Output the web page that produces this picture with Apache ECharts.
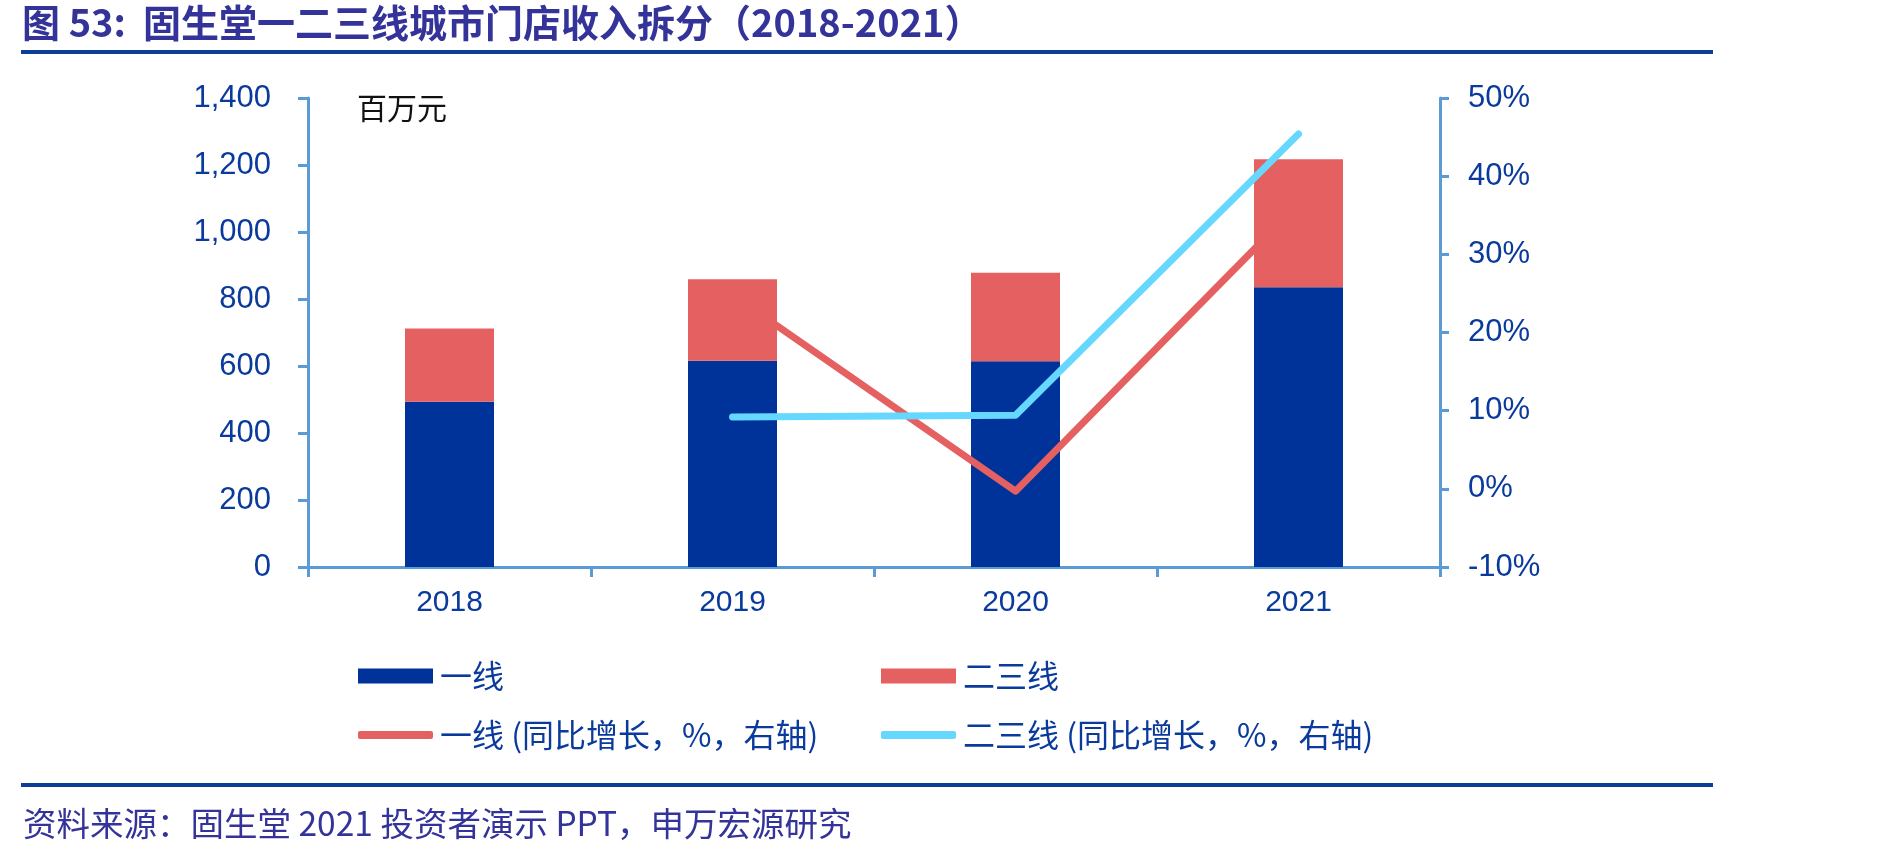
<!DOCTYPE html>
<html>
<head>
<meta charset="utf-8">
<title>固生堂一二三线城市门店收入拆分</title>
<script src="https://cdn.jsdelivr.net/npm/echarts@6/dist/echarts.min.js"></script>
<style>
  html, body { margin: 0; padding: 0; background: #fff; }
  #chart { width: 1884px; height: 860px; }
</style>
</head>
<body>
<div id="chart"></div>
<script>
// data
var years = ['2018', '2019', '2020', '2021'];
var tier1 = [493, 616, 614, 835];          // 一线, 百万元
var tier23 = [219, 243, 264, 382];         // 二三线, 百万元
var tier1Growth = [null, 24.8, -0.3, 36.4];   // %, right axis
var tier23Growth = [null, 9.2, 9.4, 45.4];    // %, right axis

var names = ['一线', '二三线', '一线 (同比增长，%，右轴)', '二三线 (同比增长，%，右轴)'];

var darkBlue = '#003399';
var red = '#E56060';
var lightBlue = '#66D7FF';
var axisColor = '#5B9BD5';
var labelColor = '#0A3A9C';
var cjk = '"Noto Sans CJK SC", "Liberation Sans", sans-serif';
var latin = '"Liberation Sans", Arial, sans-serif';

var chart = echarts.init(document.getElementById('chart'));

function oneLegend(name, left, top, h, icon) {
    return {
        data: [{ name: name, icon: icon }],
        left: left, top: top, padding: 0,
        itemWidth: 75, itemHeight: h, itemGap: 0,
        selectedMode: false,
        textStyle: { color: labelColor, fontSize: 32, fontFamily: cjk, padding: [0, 0, 0, 2] }
    };
}

var option = {
    animation: false,
    backgroundColor: '#fff',
    grid: { left: 308, right: 444, top: 98, bottom: 293, containLabel: false },
    legend: [
        oneLegend(names[0], 358, 660, 15, 'rect'),
        oneLegend(names[1], 881, 660, 15, 'rect'),
        oneLegend(names[2], 358, 719, 8, 'roundRect'),
        oneLegend(names[3], 881, 719, 8, 'roundRect')
    ],
    xAxis: {
        type: 'category',
        data: years,
        axisLine: { lineStyle: { color: axisColor, width: 3 } },
        axisTick: { show: true, alignWithLabel: false, length: 10, lineStyle: { color: axisColor, width: 3 } },
        axisLabel: { color: labelColor, fontSize: 30, fontFamily: latin, margin: 21 }
    },
    yAxis: [{
        type: 'value',
        min: 0, max: 1400, interval: 200,
        axisLine: { show: true, lineStyle: { color: axisColor, width: 3 } },
        axisTick: { show: true, length: 10, lineStyle: { color: axisColor, width: 3 } },
        splitLine: { show: false },
        axisLabel: {
            color: labelColor, fontSize: 31, fontFamily: latin, margin: 37,
            formatter: function (v) { return v.toLocaleString('en-US'); }
        }
    }, {
        type: 'value',
        position: 'right',
        min: -10, max: 50, interval: 10,
        axisLine: { show: true, lineStyle: { color: axisColor, width: 3 } },
        axisTick: { show: true, length: 9, lineStyle: { color: axisColor, width: 3 } },
        splitLine: { show: false },
        axisLabel: { color: labelColor, fontSize: 31, fontFamily: latin, margin: 28, formatter: '{value}%' }
    }],
    series: [{
        name: names[0], type: 'bar', stack: 'rev', data: tier1,
        barWidth: 89, itemStyle: { color: darkBlue }
    }, {
        name: names[1], type: 'bar', stack: 'rev', data: tier23,
        barWidth: 89, itemStyle: { color: red }
    }, {
        name: names[2], type: 'line', yAxisIndex: 1, data: tier1Growth,
        showSymbol: false, symbol: 'none',
        lineStyle: { color: red, width: 7, cap: 'round', join: 'round' },
        itemStyle: { color: red }
    }, {
        name: names[3], type: 'line', yAxisIndex: 1, data: tier23Growth,
        showSymbol: false, symbol: 'none',
        lineStyle: { color: lightBlue, width: 7, cap: 'round', join: 'round' },
        itemStyle: { color: lightBlue }
    }],
    graphic: [{
        type: 'text', left: 22, top: 4,
        style: {
            text: '图 53:  固生堂一二三线城市门店收入拆分（2018-2021）',
            font: 'bold 38px ' + cjk, fill: '#333399'
        }
    }, {
        type: 'rect', shape: { x: 21, y: 50, width: 1692, height: 4 },
        style: { fill: '#0B3D99' }
    }, {
        type: 'text', left: 357, top: 93,
        style: { text: '百万元', font: '30px ' + cjk, fill: '#111' }
    }, {
        type: 'rect', shape: { x: 21, y: 783, width: 1692, height: 4 },
        style: { fill: '#0B3D99' }
    }, {
        type: 'text', left: 23, top: 807,
        style: {
            text: '资料来源：固生堂 2021 投资者演示 PPT，申万宏源研究',
            font: '33.5px ' + cjk, fill: '#33339A'
        }
    }]
};

chart.setOption(option);
</script>
</body>
</html>
